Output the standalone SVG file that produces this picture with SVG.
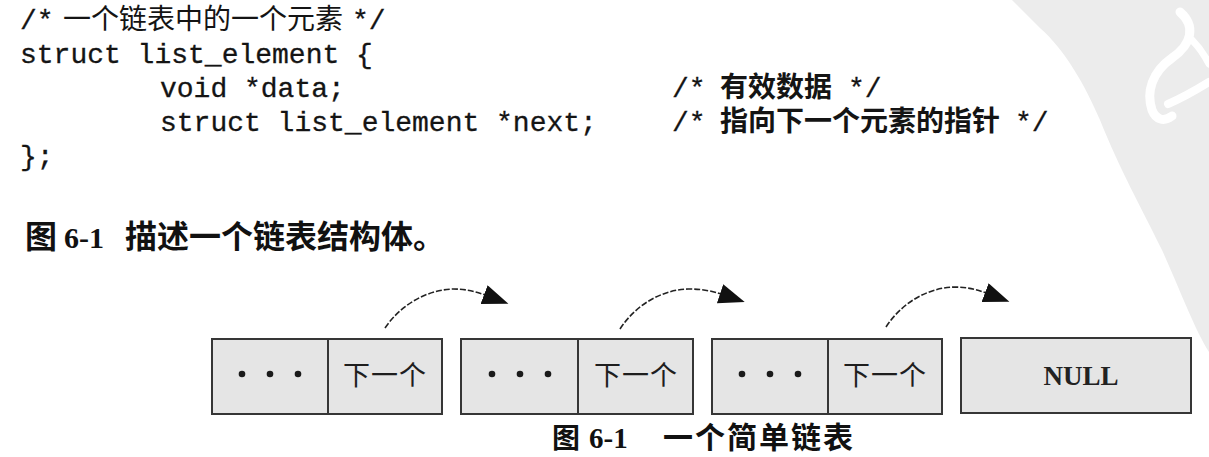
<svg xmlns="http://www.w3.org/2000/svg" width="1209" height="457" viewBox="0 0 1209 457">
<style>
.code{font-family:"Liberation Mono","DejaVu Sans Mono",monospace;font-size:28px;fill:#141414;stroke:#141414;stroke-width:0.3;}
.cjk{font-family:"Noto Sans CJK SC",sans-serif;font-size:28px;fill:#141414;}
.cjkb{font-family:"Noto Sans CJK SC",sans-serif;font-size:28px;font-weight:bold;fill:#141414;}
.head{font-family:"Noto Sans CJK SC",sans-serif;font-weight:bold;fill:#111;}
.num{font-family:"Liberation Serif","Noto Sans CJK SC",serif;font-weight:bold;fill:#111;}
.box{fill:#e5e5e5;stroke:#363636;stroke-width:2;}
.div{stroke:#363636;stroke-width:2;}
.dot{fill:#1a1a1a;}
.lbl{font-family:"Noto Sans CJK SC",sans-serif;font-size:27px;fill:#1e1e1e;text-anchor:middle;letter-spacing:1px;}
.null{font-family:"Liberation Serif",serif;font-size:27px;font-weight:bold;fill:#222;text-anchor:middle;}
.link{fill:none;stroke:#222;stroke-width:1.6;stroke-dasharray:6 2;}
</style>
<defs>
<marker id="head" markerUnits="userSpaceOnUse" markerWidth="28" markerHeight="22" refX="1" refY="10" orient="auto">
<path d="M0,0 L26,10 L0,20 z" fill="#111"/>
</marker>
</defs>
<rect width="1209" height="457" fill="#fff"/>
<g id="background">
<path d="M1012,0 L1209,0 L1209,352 C1195,330 1180,290 1162,250 C1140,205 1120,170 1100,120 C1085,85 1065,50 1040,28 Z" fill="#ececec"/>
<path d="M1180,12 C1196,26 1192,44 1172,58 C1152,72 1146,92 1152,110 C1156,120 1164,122 1172,116" fill="none" stroke="#fff" stroke-width="9" stroke-linecap="round"/>
<path d="M1168,104 C1182,98 1196,90 1209,82" fill="none" stroke="#fff" stroke-width="8" stroke-linecap="round"/>
<path d="M1192,40 C1200,48 1205,56 1209,64" fill="none" stroke="#fff" stroke-width="7" stroke-linecap="round"/>
</g>
<g id="code">
<text class="code" x="20" y="29">/*</text>
<text class="cjk" x="63" y="29">一个链表中的一个元素</text>
<text class="code" x="352" y="29">*/</text>
<text class="code" x="20" y="63">struct list_element {</text>
<text class="code" x="160" y="97">void *data;</text>
<text class="code" x="672" y="97">/*</text>
<text class="cjkb" x="720" y="97">有效数据</text>
<text class="code" x="848" y="97">*/</text>
<text class="code" x="160" y="131">struct list_element *next;</text>
<text class="code" x="672" y="131">/*</text>
<text class="cjkb" x="720" y="131">指向下一个元素的指针</text>
<text class="code" x="1015" y="131">*/</text>
<text class="code" x="20" y="165">};</text>
</g>
<g id="heading">
<text class="head" x="25" y="248" font-size="32">图</text>
<text class="num" x="64" y="248" font-size="30">6-1</text>
<text class="head" x="125" y="248" font-size="32">描述一个链表结构体。</text>
</g>
<g id="node1">
<rect class="box" x="212" y="339" width="230" height="75"/>
<line class="div" x1="328" y1="339" x2="328" y2="414"/>
<circle class="dot" cx="242" cy="374" r="3.3"/><circle class="dot" cx="270" cy="374" r="3.3"/><circle class="dot" cx="298" cy="374" r="3.3"/>
<text class="lbl" x="385" y="385">下一个</text>
</g>
<g id="node2">
<rect class="box" x="461" y="339" width="232" height="75"/>
<line class="div" x1="578" y1="339" x2="578" y2="414"/>
<circle class="dot" cx="492" cy="374" r="3.3"/><circle class="dot" cx="520" cy="374" r="3.3"/><circle class="dot" cx="548" cy="374" r="3.3"/>
<text class="lbl" x="636" y="385">下一个</text>
</g>
<g id="node3">
<rect class="box" x="712" y="339" width="230" height="75"/>
<line class="div" x1="828" y1="339" x2="828" y2="414"/>
<circle class="dot" cx="742" cy="374" r="3.3"/><circle class="dot" cx="770" cy="374" r="3.3"/><circle class="dot" cx="798" cy="374" r="3.3"/>
<text class="lbl" x="885" y="385">下一个</text>
</g>
<g id="node4">
<rect class="box" x="961" y="338" width="230" height="75"/>
<text class="null" x="1081" y="385">NULL</text>
</g>
<g id="connectors">
<path class="link" d="M385,328 C400,306 425,290 453,289 C467,289 477,292 485,295" marker-end="url(#head)"/>
<path class="link" d="M620,329 C635,306 660,290 688,289 C702,289 712,291 721,294" marker-end="url(#head)"/>
<path class="link" d="M886,327 C901,304 926,288 954,287 C968,287 978,290 986,293" marker-end="url(#head)"/>
</g>
<g id="caption">
<text class="head" x="552" y="448" font-size="28">图</text>
<text class="num" x="589" y="448" font-size="29">6-1</text>
<text class="head" x="663" y="448" font-size="30" letter-spacing="2">一个简单链表</text>
</g>
</svg>
